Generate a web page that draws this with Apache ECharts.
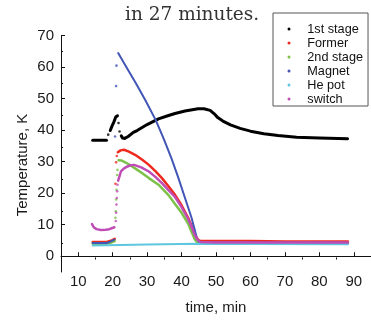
<!DOCTYPE html>
<html>
<head>
<meta charset="utf-8">
<style>
  html, body { margin: 0; padding: 0; background: #fff; }
  #chart { width: 371px; height: 320px; }
</style>
<script src="https://cdn.jsdelivr.net/npm/echarts@6/dist/echarts.min.js"></script>
</head>
<body>
<div id="chart"></div>
<script>
// Cooldown record: temperatures of each stage versus time (minutes)
const seriesNames = ['1st stage', 'Former', '2nd stage', 'Magnet', 'He pot', 'switch'];
const seriesColors = ['#000000', '#ee2a1e', '#7cc24a', '#4256b6', '#5ec6df', '#c04cb6'];
const lineWidths = [3, 2.5, 2.5, 2, 2, 2.5];

// Continuous stretches of each trace: [time, K]
const stage1Segments = [
  [[14.2, 36.8], [16, 36.8], [18.2, 36.8]],
  [[19.3, 39.9], [19.8, 41.3], [20.3, 42.5], [20.9, 44.2], [21.4, 44.6]],
  [[22.5, 38.2], [22.9, 37.5], [23.5, 37.4], [24.5, 38.0], [26, 39.3], [27.1, 39.9], [30, 41.8],
   [33.3, 43.6], [36, 44.6], [38.1, 45.3], [41, 46.1], [44.8, 46.8], [46.5, 46.8], [48.3, 46.3],
   [49.5, 45.2], [50.5, 44.0], [52, 42.9], [54.2, 41.7], [57, 40.6], [60, 39.7], [63.9, 38.9],
   [68, 38.3], [73.4, 37.8], [80, 37.5], [88.2, 37.3]]
];
const formerSegments = [
  [[14.2, 4.5], [16, 4.5], [18.3, 4.5], [19.5, 4.9], [20.6, 5.5]],
  [[21.5, 33.0], [22.3, 33.6], [23.3, 33.8], [24.7, 33.2], [26.5, 32.2], [28.6, 30.6], [30.5, 29.0],
   [32.4, 27.0], [34.3, 24.8], [36.2, 22.2], [38.1, 19.5], [40, 16.2], [41.9, 12.2], [42.9, 9.7],
   [43.8, 7.0], [44.8, 5.2], [45.5, 4.8], [50, 4.8], [60, 4.8], [70, 4.7], [80, 4.7], [88.3, 4.7]]
];
const stage2Segments = [
  [[14.2, 4.0], [16, 4.0], [18.3, 4.0], [19.5, 4.3], [20.6, 4.8]],
  [[21.7, 30.5], [22.5, 30.4], [23.5, 29.9], [24.7, 29.2], [26.5, 27.9], [28.5, 26.4], [30.5, 24.8],
   [33.3, 22.7], [36.2, 19.4], [38.1, 16.6], [40, 13.8], [41.9, 10.4], [42.9, 7.8], [43.8, 5.5],
   [44.5, 4.4], [46, 4.2], [50, 4.2], [60, 4.1], [70, 4.1], [80, 4.1], [88.3, 4.1]]
];
const magnetSegments = [
  [[14.2, 4.2], [16, 4.2], [18.3, 4.2], [19.5, 4.7], [20.5, 5.3]],
  [[21.6, 64.5], [24, 60.0], [26.7, 55.0], [29.5, 49.5], [32.5, 43.2], [34.8, 37.3], [37.1, 31.0],
   [39.1, 24.8], [41, 18.5], [42.9, 12.2], [43.8, 8.5], [44.5, 5.5], [45.2, 4.5], [50, 4.4],
   [60, 4.4], [70, 4.3], [80, 4.3], [88.3, 4.3]]
];
const hePotSegments = [
  [[14.2, 3.4], [30, 3.7], [44.5, 4.0], [60, 3.9], [88.3, 3.8]]
];
const switchSegments = [
  [[14.0, 10.2], [14.5, 9.2], [15.3, 8.6], [16.6, 8.3], [18, 8.4], [19, 8.6], [20.5, 9.2]],
  [[21.6, 24.0], [22.4, 26.9], [23.3, 27.9], [24.3, 28.5], [25.3, 28.9], [26.2, 29.0], [28.3, 28.2],
   [30.5, 26.9], [32.4, 25.2], [34.3, 23.2], [36.2, 21.0], [38.1, 18.8], [40, 15.6], [41.9, 11.9],
   [42.9, 9.4], [43.8, 6.8], [44.8, 5.0], [45.5, 4.5], [50, 4.4], [60, 4.4], [70, 4.4], [80, 4.4],
   [88.3, 4.4]]
];

// Sparse readings taken during the fast transients
const stage1Dots = [[18.7, 38.6], [21.7, 42.3], [22.0, 39.6]];
const formerDots = [[20.8, 23.0], [21.0, 29.8], [21.2, 31.8]];
const stage2Dots = [[20.8, 12.2], [20.9, 14.3], [21.0, 18.0], [21.1, 21.1], [21.3, 25.8], [21.4, 27.4]];
const magnetDots = [[20.7, 38.0], [21.0, 54.0], [21.1, 60.5]];
const hePotDots = [];
const switchDots = [[20.9, 11.2], [21.0, 13.8], [21.1, 16.4], [21.2, 18.5], [21.3, 20.6], [21.4, 22.7]];

// Axis ticks
const xMajorTicks = [10, 20, 30, 40, 50, 60, 70, 80, 90];
const xMinorTicks = [15, 25, 35, 45, 55, 65, 75, 85, 95];
const yMajorTicks = [0, 10, 20, 30, 40, 50, 60, 70];
const yMinorTicks = [5, 15, 25, 35, 45, 55, 65];

const allSegments = [stage1Segments, formerSegments, stage2Segments, magnetSegments, hePotSegments, switchSegments];
const allDots = [stage1Dots, formerDots, stage2Dots, magnetDots, hePotDots, switchDots];

const series = [];
seriesNames.forEach(function (name, i) {
  allSegments[i].forEach(function (seg) {
    series.push({
      name: name,
      type: 'line',
      xAxisIndex: 0,
      yAxisIndex: 0,
      data: seg,
      showSymbol: false,
      symbol: 'none',
      itemStyle: { color: seriesColors[i] },
      lineStyle: { color: seriesColors[i], width: lineWidths[i], join: 'round', cap: 'round' },
      silent: true
    });
  });
  series.push({
    name: name,
    type: 'scatter',
    xAxisIndex: 0,
    yAxisIndex: 0,
    data: allDots[i],
    symbol: 'circle',
    symbolSize: 2.6,
    itemStyle: { color: seriesColors[i] },
    silent: true
  });
});

const axisColor = '#111';
const font = 'Liberation Sans';
const gridBox = { left: 61, right: -4.5, top: 35.7, bottom: 44.5 };

const option = {
  animation: false,
  backgroundColor: '#ffffff',
  textStyle: { fontFamily: font },
  title: {
    text: 'in 27 minutes.',
    left: 125,
    top: 6,
    padding: 0,
    textStyle: { fontFamily: 'DejaVu Serif', fontSize: 18.5, fontWeight: 'normal', color: '#333' }
  },
  legend: {
    orient: 'vertical',
    left: 273,
    top: 13,
    padding: [9, 5, 0, 14.5],
    data: seriesNames,
    icon: 'circle',
    itemWidth: 3,
    itemHeight: 3,
    itemGap: 0,
    borderColor: '#555',
    borderWidth: 1,
    backgroundColor: '#fff',
    textStyle: { fontFamily: font, fontSize: 12.7, color: '#111', lineHeight: 14, padding: [0, 0, 0, 11.8] }
  },
  grid: [
    Object.assign({}, gridBox),
    Object.assign({}, gridBox)
  ],
  xAxis: [
    {
      type: 'value', gridIndex: 0, min: 5, max: 95,
      axisLine: { show: true, lineStyle: { color: axisColor, width: 1 } },
      axisTick: { show: true, inside: true, length: 4, customValues: xMajorTicks, lineStyle: { color: axisColor } },
      axisLabel: { customValues: xMajorTicks, fontSize: 15, color: '#1a1a1a', margin: 2, fontFamily: font },
      splitLine: { show: false },
      name: 'time, min', nameLocation: 'middle', nameGap: 28,
      nameTextStyle: { fontSize: 15, color: '#1a1a1a', fontFamily: font }
    },
    {
      type: 'value', gridIndex: 1, min: 5, max: 95,
      axisLine: { show: false },
      axisTick: { show: true, inside: true, length: 2, customValues: xMinorTicks, lineStyle: { color: axisColor } },
      axisLabel: { show: false },
      splitLine: { show: false }
    }
  ],
  yAxis: [
    {
      type: 'value', gridIndex: 0, min: -5, max: 70,
      axisLine: { show: true, lineStyle: { color: axisColor, width: 1 } },
      axisTick: { show: true, inside: true, length: 4, customValues: yMajorTicks, lineStyle: { color: axisColor } },
      axisLabel: { customValues: yMajorTicks, fontSize: 15, color: '#1a1a1a', margin: 7, fontFamily: font },
      splitLine: { show: false }
    },
    {
      type: 'value', gridIndex: 1, min: -5, max: 70,
      axisLine: { show: false },
      axisTick: { show: true, inside: true, length: 2, customValues: yMinorTicks, lineStyle: { color: axisColor } },
      axisLabel: { show: false },
      splitLine: { show: false }
    }
  ],
  graphic: [
    {
      type: 'text',
      x: 23, y: 165,
      rotation: Math.PI / 2,
      style: {
        text: 'Temperature, K',
        fontFamily: font, fontSize: 15, fill: '#1a1a1a',
        align: 'center', verticalAlign: 'middle'
      }
    }
  ],
  series: series
};

const chart = echarts.init(document.getElementById('chart'), null, { renderer: 'canvas' });
chart.setOption(option);
</script>
</body>
</html>
